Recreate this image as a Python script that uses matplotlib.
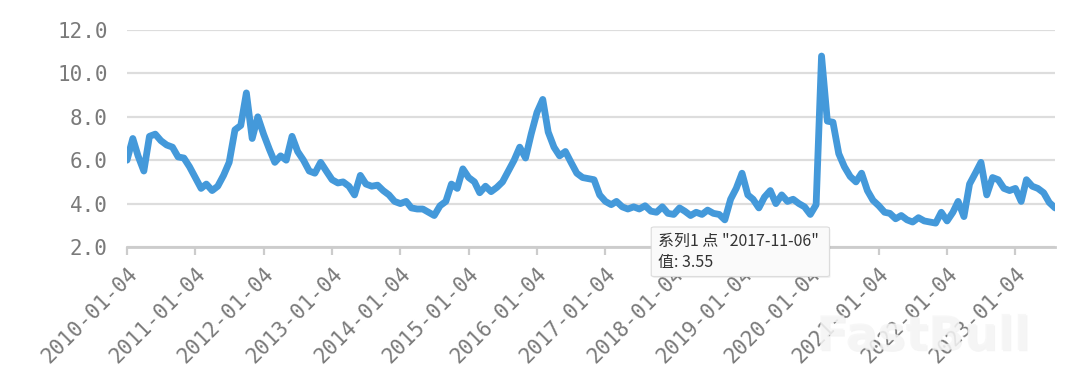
import numpy as np
import pandas as pd
import matplotlib
matplotlib.use("Agg")
import matplotlib.pyplot as plt
import matplotlib.patheffects as pe
from matplotlib.patches import FancyBboxPatch

# monthly readings, Jan 2010 .. Aug 2023
values = [
    6.0, 7.0, 6.2, 5.5, 7.1, 7.2, 6.9, 6.7, 6.6, 6.15, 6.1, 5.7,        # 2010
    5.2, 4.7, 4.9, 4.6, 4.8, 5.3, 5.9, 7.4, 7.6, 9.1, 7.0, 8.0,         # 2011
    7.2, 6.5, 5.9, 6.2, 6.0, 7.1, 6.4, 6.0, 5.5, 5.4, 5.9, 5.5,         # 2012
    5.1, 4.95, 5.0, 4.8, 4.4, 5.3, 4.9, 4.8, 4.85, 4.6, 4.4, 4.1,       # 2013
    4.0, 4.1, 3.8, 3.75, 3.75, 3.6, 3.45, 3.9, 4.1, 4.9, 4.7, 5.6,      # 2014
    5.2, 5.0, 4.5, 4.8, 4.55, 4.75, 5.0, 5.5, 6.0, 6.6, 6.1, 7.2,       # 2015
    8.2, 8.8, 7.3, 6.6, 6.2, 6.4, 5.9, 5.4, 5.2, 5.15, 5.1, 4.4,        # 2016
    4.1, 3.95, 4.1, 3.85, 3.75, 3.85, 3.75, 3.9, 3.65, 3.6, 3.85, 3.55, # 2017
    3.5, 3.8, 3.65, 3.45, 3.6, 3.5, 3.7, 3.55, 3.5, 3.25, 4.2, 4.7,     # 2018
    5.4, 4.4, 4.2, 3.8, 4.3, 4.6, 4.0, 4.4, 4.1, 4.2, 4.0, 3.85,        # 2019
    3.5, 3.95, 10.8, 7.8, 7.75, 6.3, 5.7, 5.25, 5.0, 5.4, 4.6, 4.15,    # 2020
    3.9, 3.6, 3.55, 3.3, 3.45, 3.25, 3.15, 3.35, 3.2, 3.15, 3.1, 3.6,   # 2021
    3.2, 3.6, 4.1, 3.4, 4.9, 5.4, 5.9, 4.4, 5.2, 5.1, 4.7, 4.6,         # 2022
    4.7, 4.1, 5.1, 4.8, 4.7, 4.5, 4.05, 3.8,                            # 2023
]
dates = pd.date_range("2010-01-04", periods=len(values), freq=pd.DateOffset(months=1))

tick_labels = [f"{y}-01-04" for y in range(2010, 2024)]
y_ticks = [2, 4, 6, 8, 10, 12]

tooltip_title = '系列1 点 "2017-11-06"'
tooltip_value = "值: 3.55"

LINE = "#4499da"
GRID = "#dddddd"
LABEL = "#7a7a7a"
MONO = ["DejaVu Sans Mono"]

fig = plt.figure(figsize=(10.8, 3.9), dpi=100, facecolor="white")
ax = fig.add_axes([0.1176, 0.3667, 0.8593, 0.5564])

ax.plot(dates, values, color=LINE, lw=4.9, solid_joinstyle="round",
        solid_capstyle="round", zorder=3)

ax.set_xlim(dates[0], dates[-1])
ax.set_ylim(2, 12)

ax.set_yticks(y_ticks)
ax.set_yticklabels([f"{v:.1f}" for v in y_ticks])
ax.yaxis.grid(True, color=GRID, lw=1.6)
ax.set_axisbelow(True)
ax.tick_params(axis="y", length=0, pad=14, labelsize=15, labelcolor=LABEL)

ax.set_xticks(pd.to_datetime(tick_labels))
ax.set_xticklabels(tick_labels, rotation=45, ha="right", rotation_mode="anchor")
ax.tick_params(axis="x", length=6, width=1.6, color="#cccccc", pad=6,
               labelsize=15, labelcolor=LABEL)

for side in ("top", "right", "left"):
    ax.spines[side].set_visible(False)
ax.spines["bottom"].set_color("#cccccc")
ax.spines["bottom"].set_linewidth(2)

for lab in ax.get_xticklabels() + ax.get_yticklabels():
    lab.set_fontfamily(MONO)

# watermark
fig.text(0.855, 0.135, "FastBull", fontsize=34, fontweight="bold", color="#f6f6f6",
         ha="center", va="center", alpha=0.85, zorder=10,
         path_effects=[pe.SimplePatchShadow(offset=(1, -1), shadow_rgbFace="#999999", alpha=0.1),
                       pe.Normal()])

# tooltip
bx, by, bw, bh = 0.603, 0.291, 0.165, 0.127
shadow = FancyBboxPatch((bx + 0.001, by - 0.004), bw, bh, boxstyle="round,pad=0,rounding_size=0.003",
                        transform=fig.transFigure, facecolor="#000000", alpha=0.06,
                        edgecolor="none", zorder=11)
box = FancyBboxPatch((bx, by), bw, bh, boxstyle="round,pad=0,rounding_size=0.003",
                     transform=fig.transFigure, facecolor="#fafafa",
                     edgecolor="#dcdcdc", lw=0.8, zorder=12)
fig.patches.extend([shadow, box])
cjk = ["Noto Sans CJK SC", "DejaVu Sans"]
fig.text(bx + 0.006, by + bh - 0.038, tooltip_title, fontsize=11.5, color="#333333",
         family=cjk, va="center", zorder=13)
fig.text(bx + 0.006, by + bh - 0.091, tooltip_value, fontsize=11.5, color="#333333",
         family=cjk, va="center", zorder=13)

fig.savefig("out.png", dpi=100, facecolor="white")
